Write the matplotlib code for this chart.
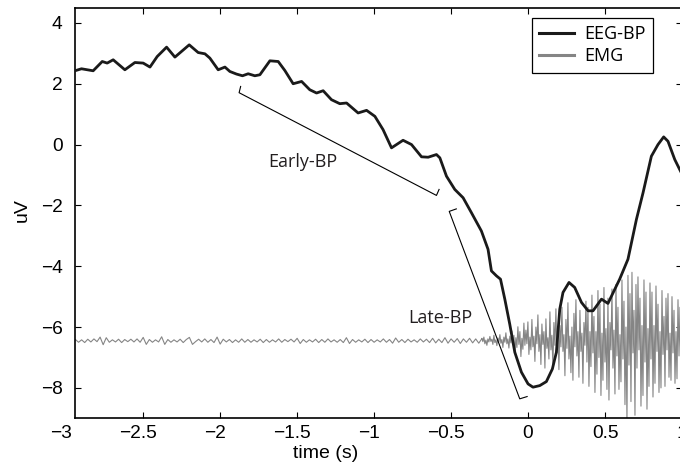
import matplotlib
matplotlib.use("Agg")
import matplotlib.pyplot as plt
import matplotlib.transforms as mtransforms
import numpy as np

# EEG readiness potential (uV)
eeg_t = [-2.937, -2.901, -2.825, -2.766, -2.734, -2.695, -2.619, -2.554, -2.500, -2.456,
         -2.409, -2.348, -2.294, -2.201, -2.143, -2.099, -2.067, -2.013, -1.969, -1.937,
         -1.894, -1.855, -1.818, -1.775, -1.742, -1.677, -1.623, -1.580, -1.526, -1.471,
         -1.418, -1.374, -1.331, -1.277, -1.223, -1.179, -1.104, -1.049, -0.995, -0.942,
         -0.887, -0.812, -0.757, -0.692, -0.649, -0.595, -0.573, -0.530, -0.476, -0.422,
         -0.368, -0.303, -0.260, -0.238, -0.205, -0.179, -0.151, -0.119, -0.086, -0.043,
         0.000, 0.032, 0.076, 0.119, 0.158, 0.184, 0.206, 0.227, 0.266, 0.303,
         0.347, 0.390, 0.422, 0.477, 0.519, 0.595, 0.649, 0.704, 0.747, 0.801,
         0.844, 0.881, 0.909, 0.953, 0.985, 1.000]
eeg_v = [2.436, 2.492, 2.426, 2.731, 2.679, 2.787, 2.459, 2.698, 2.679, 2.548,
         2.895, 3.203, 2.875, 3.279, 3.026, 2.984, 2.843, 2.459, 2.548, 2.403,
         2.318, 2.262, 2.328, 2.262, 2.295, 2.754, 2.731, 2.436, 2.000, 2.075,
         1.803, 1.695, 1.770, 1.475, 1.344, 1.367, 1.039, 1.125, 0.928, 0.492,
         -0.108, 0.141, 0.000, -0.403, -0.416, -0.328, -0.436, -1.039, -1.475, -1.748,
         -2.239, -2.843, -3.443, -4.154, -4.318, -4.426, -5.082, -5.902, -6.830, -7.485,
         -7.869, -7.977, -7.925, -7.793, -7.377, -6.830, -5.410, -4.862, -4.534, -4.698,
         -5.190, -5.466, -5.466, -5.082, -5.223, -4.426, -3.770, -2.459, -1.584, -0.384,
         0.000, 0.252, 0.108, -0.492, -0.820, -0.970]

# EMG (offset baseline), quiet part sampled every 0.02 s, active part every 0.0065 s
emg_base = -6.45
emg_quiet_start, emg_quiet_step = -2.94, 0.02
emg_quiet = [0.04, -0.05, 0.03, -0.06, 0.05, -0.04, 0.06, -0.03, 0.12, -0.13,
             0.10, -0.05, 0.03, -0.04, 0.05, -0.06, 0.04, -0.03, 0.05, -0.04,
             0.06, -0.05, 0.11, -0.12, 0.04, -0.05, 0.03, -0.04, 0.13, -0.12,
             0.04, -0.05, 0.03, -0.04, 0.05, -0.06, 0.04, 0.11, -0.12, -0.03,
             0.05, -0.04, 0.06, -0.05, 0.04, -0.06, 0.12, -0.11, 0.05, -0.04,
             0.04, -0.06, 0.03, -0.05, 0.06, -0.05, 0.04, -0.05, 0.03, -0.04,
             0.05, -0.06, 0.04, -0.05, 0.03, -0.04, 0.06, -0.05, 0.04, -0.03,
             0.05, -0.04, 0.08, -0.09, 0.04, -0.05, 0.03, -0.04, 0.05, -0.06,
             0.04, -0.05, 0.06, -0.04, 0.03, -0.05, 0.04, -0.06, 0.10, -0.09,
             0.04, -0.05, 0.03, -0.04, 0.05, -0.06, 0.04, -0.05, 0.03, -0.04,
             0.06, -0.05, 0.04, -0.08, 0.09, -0.05, 0.04, -0.06, 0.05, -0.04,
             0.03, -0.05, 0.06, -0.04, 0.05, -0.06, 0.08, -0.07, 0.05, -0.06,
             0.10, -0.08, 0.06, -0.05, 0.07, -0.09, 0.06, -0.05, 0.08, -0.07,
             0.06, -0.08, 0.07]
emg_active_start, emg_active_step = -0.30, 0.0065
emg_active = [0.08, -0.03, 0.12, -0.10, 0.02, -0.15, 0.06, -0.04, 0.14, -0.02,
              0.05, -0.12, 0.18, -0.06, 0.03, -0.16, 0.09, -0.04, 0.20, -0.08,
              0.04, -0.22, 0.12, -0.05, 0.26, -0.10, 0.06, -0.24, 0.15, -0.07,
              0.32, -0.08, 0.18, -0.40, 0.10, -0.22, 0.46, -0.12, 0.30, -0.52,
              0.08, -0.28, 0.58, -0.15, 0.35, -0.10, 0.62, -0.45, 0.12, -0.30,
              0.70, -0.20, 0.15, -0.68, 0.45, -0.10, 0.85, -0.35, 0.20, -0.78,
              0.55, -0.12, 0.30, -0.90, 0.72, -0.25, 0.10, -0.60, 0.95, -0.30,
              0.18, -0.85, 0.60, -0.15, 1.05, -0.40, 0.25, -0.95, 0.50, -0.20,
              1.10, -0.35, 0.20, -1.15, 0.70, -0.25, 1.25, -0.60, 0.15, -1.05,
              0.45, -1.30, 0.90, -0.20, 1.35, -0.50, 0.30, -1.20, 1.00, -0.35,
              0.25, -1.40, 0.60, -0.15, 1.30, -0.70, 1.10, -1.50, 0.30, -0.85,
              1.50, -0.40, 0.80, -1.70, 0.30, -1.10, 1.65, -0.55, 1.20, -1.80,
              0.25, -1.30, 1.75, -0.70, 0.40, -1.60, 1.40, -1.95, 0.60, -0.30,
              1.70, -0.90, 0.35, -1.75, 1.85, -0.50, 1.10, -1.60, 0.20, -1.35,
              2.00, -0.60, 1.30, -2.10, 0.45, -2.65, 2.15, -0.80, 1.55, -2.00,
              2.25, -0.40, 1.00, -2.45, 1.85, -0.90, 2.10, -0.30, 1.40, -2.15,
              0.50, -1.80, 2.00, -0.70, 1.60, -2.25, 0.40, -1.50, 1.90, -0.60,
              1.60, -1.85, 0.50, -1.40, 1.80, -0.35, 1.20, -1.70, 0.30, -1.55,
              1.65, -0.45, 0.80, -1.50, 1.40, -0.30, 1.55, -1.20, 0.25, -1.30,
              1.45, -0.40, 1.00, -1.40, 0.30, -1.25, 1.35, -0.50, 1.10, -1.30]

# annotation brackets (data coords) and their labels
early_bp_x = [-1.867, -1.877, -0.595, -0.578]
early_bp_y = [1.911, 1.705, -1.672, -1.475]
late_bp_x = [-0.466, -0.512, -0.054, -0.006]
late_bp_y = [-2.115, -2.197, -8.360, -8.285]
early_label = (-1.465, -0.56, "Early-BP")
late_label = (-0.573, -5.70, "Late-BP")

x_ticks = [-2.5, -2, -1.5, -1, -0.5, 0, 0.5, 1]
x_ticklabels = ["\u22122.5", "\u22122", "\u22121.5", "\u22121", "\u22120.5", "0", "0.5", "1"]
y_ticks = [-8, -6, -4, -2, 0, 2, 4]
y_ticklabels = ["\u22128", "\u22126", "\u22124", "\u22122", "0", "2", "4"]

plt.rcParams["font.family"] = ["Liberation Sans", "DejaVu Sans"]
annot_font = ["Open Sans", "DejaVu Sans"]

fig = plt.figure(figsize=(6.8, 4.67), dpi=100)
ax = fig.add_axes([75 / 680, 48.7 / 467, 607 / 680, 410.6 / 467])

emg_t = np.concatenate([emg_quiet_start + emg_quiet_step * np.arange(len(emg_quiet)),
                        emg_active_start + emg_active_step * np.arange(len(emg_active))])
emg_v = emg_base + np.array(emg_quiet + emg_active)

emg_line, = ax.plot(emg_t, emg_v, color="#858585", lw=0.8, label="EMG", zorder=2)
eeg_line, = ax.plot(eeg_t, eeg_v, color="#1a1a1a", lw=2.0, label="EEG-BP",
                    solid_joinstyle="round", zorder=3)

ax.plot(early_bp_x, early_bp_y, color="black", lw=0.8)
ax.plot(late_bp_x, late_bp_y, color="black", lw=0.8)
for lx, ly, txt in (early_label, late_label):
    ax.text(lx, ly, txt, ha="center", va="center", fontsize=13,
            family=annot_font, color="#231f20")

ax.set_xlim(-2.943, 1.0)
ax.set_ylim(-9, 4.5)
ax.set_xticks(x_ticks, labels=x_ticklabels)
ax.set_yticks(y_ticks, labels=y_ticklabels)
ax.tick_params(direction="in", top=True, right=True, length=4, width=0.8,
               labelsize=13.8, colors="black")
ax.tick_params(axis="x", pad=4.5)
ax.tick_params(axis="y", pad=9)
for sp in ax.spines.values():
    sp.set_linewidth(1.2)

# numeric part of negative labels is centred on the tick
shift = mtransforms.ScaledTranslation(-0.055, 0, fig.dpi_scale_trans)
for lab in ax.get_xticklabels():
    if lab.get_text().startswith("\u2212"):
        lab.set_transform(lab.get_transform() + shift)

# the -3 label sits just left of the clipped axis edge
trans = mtransforms.blended_transform_factory(ax.transData, ax.transAxes)
trans = trans + mtransforms.ScaledTranslation(-0.055, -4.5 / 72, fig.dpi_scale_trans)
ax.text(-3, 0, "\u22123", transform=trans, ha="center", va="top", fontsize=13.8)

ax.set_xlabel("time (s)", fontsize=14)
ax.xaxis.label.set_va("center")
ax.xaxis.set_label_coords((326 - 75) / 607, -(453 - 418.3) / 410.6)
ax.set_ylabel("uV", fontsize=14)
ax.yaxis.label.set_va("center")
ax.yaxis.set_label_coords((22 - 75) / 607, 1 - (210 - 7.7) / 410.6)

leg = ax.legend(handles=[eeg_line, emg_line], loc="upper right",
                bbox_to_anchor=((653 - 75) / 607, 1 - (17.7 - 7.7) / 410.6),
                borderaxespad=0, fancybox=False, framealpha=1, edgecolor="black",
                prop={"family": annot_font, "size": 13}, handlelength=1.9,
                handletextpad=0.6, borderpad=0.4, labelspacing=0.25)
leg.get_frame().set_linewidth(0.9)
for h in leg.legend_handles:
    h.set_linewidth(2.2)

fig.savefig("out.png", dpi=100)
